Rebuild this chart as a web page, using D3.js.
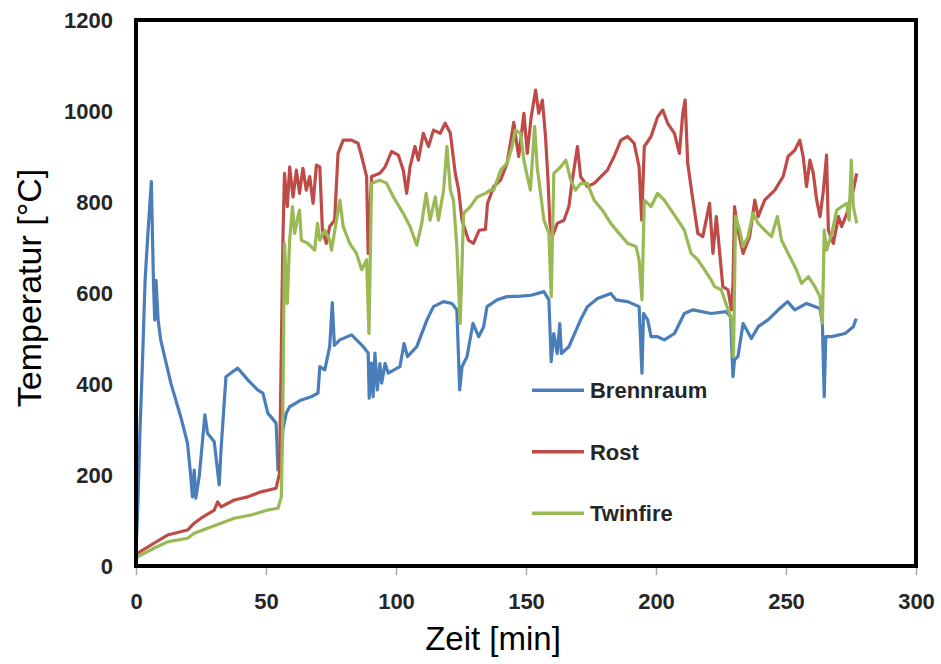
<!DOCTYPE html>
<html>
<head>
<meta charset="utf-8">
<script src="https://cdn.jsdelivr.net/npm/d3@7"></script>
<style>
  body { margin: 0; background: #fff; }
  .tick text { font-family: "Liberation Sans", Arial, sans-serif; font-weight: bold; font-size: 22px; fill: #262626; }
</style>
</head>
<body>
<svg id="chart" width="941" height="664"></svg>
<script>
// [Zeit (min), Temperatur (°C)]
const brennraum = [
  [0, 30], [0.8, 150], [1.5, 292], [2.5, 450], [3.5, 628], [4.5, 724], [5.9, 845], [6.7, 628], [7.2, 541], [7.7, 628],
  [8.5, 541], [9.5, 497], [13.4, 402], [17.2, 328], [19.8, 270], [21.1, 196], [21.7, 152], [22.4, 211], [23, 149], [24.3, 196],
  [26.5, 332], [27.5, 292], [30.1, 273], [32, 178], [32.7, 255], [34.6, 416], [39.1, 435], [43, 409], [46.8, 387], [48.8, 380],
  [50.7, 336], [53.9, 314], [54.6, 211], [55.9, 233], [56.5, 300], [57.8, 336], [59.1, 350], [63.6, 365], [67.4, 372], [70, 380],
  [70.7, 438], [72.6, 431], [74.5, 482], [75.5, 579], [76.3, 485], [78.4, 497], [82.9, 508], [87.4, 482], [89.3, 468], [89.7, 369],
  [90.6, 446], [91.2, 372], [91.9, 468], [92.8, 387], [93.8, 445], [94.5, 402], [95.8, 445], [97, 424], [101.5, 438], [103.1, 489],
  [104.4, 460], [108, 482], [111.9, 541], [114.4, 570], [118.3, 581], [121.5, 577], [123.4, 563], [124.5, 387], [125.4, 438], [127.3, 460],
  [129.6, 533], [131.8, 504], [133.7, 526], [135, 570], [138.9, 585], [142.7, 592], [147.9, 593], [152, 595], [156.9, 603], [158.8, 585],
  [159.7, 449], [160.7, 511], [162, 467], [163, 533], [163.6, 467], [166.5, 482], [171, 541], [173.6, 570], [177.5, 588], [182.6, 599],
  [184.6, 585], [189.1, 581], [193.5, 570], [194.6, 424], [195.2, 555], [196.8, 541], [198.1, 504], [200.6, 504], [203.2, 497], [207.1, 511],
  [210.9, 555], [214.2, 563], [221.2, 555], [227, 559], [228.7, 548], [229.6, 416], [230.2, 453], [231.5, 460], [233.5, 533], [236.7, 500],
  [239.3, 526], [243.1, 541], [247.6, 566], [250.6, 581], [253.4, 563], [257.9, 577], [263.1, 566], [264, 533], [264.7, 372], [265.3, 504],
  [267.6, 504], [272.7, 511], [275.9, 526], [277, 544]
];

const rost = [
  [0, 20], [0.5, 28], [6.9, 50], [12.1, 68], [19.8, 79], [22.4, 94], [25, 105], [30.1, 123], [31.4, 141], [32.7, 130],
  [37.8, 145], [43, 152], [48.1, 163], [53.9, 171], [55.2, 204], [56.5, 716], [57.1, 863], [58.2, 790], [59.1, 877], [60.4, 811],
  [61.7, 870], [62.9, 819], [64.2, 874], [65.5, 826], [66.8, 856], [68.1, 797], [69.4, 881], [70.7, 877], [71.7, 738], [73.2, 709],
  [74.5, 746], [76.4, 760], [77.7, 907], [79.7, 936], [82.9, 936], [85.4, 929], [86.8, 900], [88.7, 856], [89.3, 687], [90.6, 856],
  [93.8, 863], [95.8, 877], [98.3, 911], [100.9, 903], [102.8, 870], [104.1, 819], [105.4, 877], [107.3, 922], [108.6, 892], [110.5, 951],
  [112.5, 922], [114.4, 958], [117, 951], [118.9, 973], [120.9, 951], [122.8, 863], [124.1, 826], [125.4, 760], [127.9, 716], [129.8, 709],
  [132, 738], [134.4, 740], [135.2, 797], [137.6, 834], [140.2, 848], [142.7, 885], [144, 929], [145.3, 975], [146.6, 922], [147.2, 900],
  [149.2, 995], [150.5, 907], [152, 987], [153.7, 1046], [154.9, 995], [156.3, 1024], [157.5, 944], [158.4, 856], [159.2, 753], [160.1, 724],
  [162, 753], [164.6, 760], [166.5, 790], [167.8, 848], [169.8, 922], [171, 856], [173.6, 834], [176.2, 841], [178.8, 856], [181.3, 870],
  [183.9, 900], [186.5, 936], [189.1, 944], [191.6, 929], [193.5, 877], [194.5, 760], [195.5, 922], [198.1, 944], [200.6, 987], [202.6, 1002],
  [204.5, 973], [207.1, 951], [209, 907], [210.3, 995], [211.2, 1024], [212.2, 885], [214.2, 804], [216.1, 731], [218, 724], [220.6, 797],
  [221.9, 687], [223.2, 768], [224.4, 694], [225.7, 614], [227.7, 607], [229, 563], [229.6, 620], [230.2, 790], [231.5, 738], [233.5, 687],
  [236, 724], [238, 804], [239.3, 768], [241.8, 804], [245.7, 826], [248.9, 856], [250.8, 900], [253.4, 914], [255.3, 936], [256.6, 900],
  [257.9, 834], [259.2, 892], [260.5, 863], [261.8, 804], [263.1, 768], [264.4, 826], [265.6, 903], [266.3, 738], [268.2, 709], [270.2, 768],
  [271.4, 746], [273.4, 775], [274.6, 804], [275.9, 826], [277.2, 863]
];

const twinfire = [
  [0, 15], [0.5, 20], [6.9, 39], [12.1, 53], [19.8, 61], [22.4, 72], [27.5, 83], [32.7, 94], [37.8, 105], [44.3, 112],
  [50.7, 123], [54.6, 127], [55.9, 152], [56.5, 350], [57.1, 709], [58.2, 577], [59.1, 716], [60.2, 790], [61, 731], [62.3, 768],
  [62.9, 782], [63.6, 716], [66.1, 709], [68.7, 694], [69.8, 753], [70.7, 716], [72.6, 738], [74.5, 716], [75.2, 694], [77.1, 760],
  [78.4, 804], [79.7, 746], [82.2, 709], [84.8, 687], [86.8, 651], [88.7, 673], [89.6, 511], [90.6, 841], [93.8, 848], [96.4, 841],
  [99, 811], [102.8, 775], [105.4, 746], [108, 705], [109.9, 753], [111.6, 819], [113.1, 760], [115.1, 811], [116.3, 760], [118.3, 826],
  [119.6, 922], [120.9, 826], [122.1, 804], [123.4, 702], [124.7, 533], [126, 775], [128.6, 790], [131.2, 811], [134.4, 819], [136.3, 826],
  [137.6, 826], [140.2, 870], [142.7, 885], [144.7, 922], [145.9, 958], [147.9, 951], [149.2, 892], [150.5, 856], [151.7, 826], [153.3, 966],
  [154.3, 877], [155.6, 819], [156.9, 760], [158.8, 731], [159.7, 592], [160.7, 863], [163.3, 877], [165.3, 892], [167.2, 848], [169.1, 826],
  [171, 841], [173.6, 841], [176.2, 804], [179.4, 782], [182.6, 753], [185.8, 731], [189.1, 709], [192.3, 702], [193.5, 673], [194.6, 585],
  [195.5, 804], [198.1, 790], [200.6, 819], [203.2, 804], [205.8, 782], [208.4, 760], [210.9, 738], [213.5, 687], [216.1, 673], [218.7, 651],
  [221.2, 629], [222.5, 614], [225.1, 607], [227.7, 563], [229.2, 541], [229.8, 460], [230.6, 768], [232.2, 738], [233.5, 702], [235.4, 724],
  [237.3, 775], [239.3, 753], [241.8, 738], [244.4, 724], [246.7, 768], [248.3, 716], [250.8, 687], [254, 651], [256, 621], [258.6, 636],
  [261.1, 614], [263.1, 592], [264, 533], [264.7, 738], [265.6, 694], [267.6, 731], [269.5, 782], [271.4, 790], [273.4, 797], [274.3, 760],
  [275.1, 892], [275.9, 790], [277.2, 753]
];

const seriesNames = ['Brennraum', 'Rost', 'Twinfire'];
const seriesColors = ['#4a7ebb', '#be4b48', '#98b954'];
const xTicks = [0, 50, 100, 150, 200, 250, 300];
const yTicks = [0, 200, 400, 600, 800, 1000, 1200];

const svg = d3.select('#chart');

const margin = { top: 20, right: 25, bottom: 98, left: 136 };
const width = 941 - margin.left - margin.right;
const height = 664 - margin.top - margin.bottom;

const x = d3.scaleLinear().domain([0, 300]).range([0, width]);
const y = d3.scaleLinear().domain([0, 1200]).range([height, 0]);

const g = svg.append('g').attr('transform', `translate(${margin.left},${margin.top})`);

// x axis with small grey ticks
const xAxis = g.append('g')
  .attr('transform', `translate(0,${height})`)
  .call(d3.axisBottom(x).tickValues(xTicks).tickFormat(d3.format('d')).tickSize(9).tickPadding(18));
xAxis.select('.domain').remove();
xAxis.selectAll('.tick line').attr('stroke', '#aaa').attr('stroke-width', 1.5);

const yAxis = g.append('g')
  .call(d3.axisLeft(y).tickValues(yTicks).tickFormat(d3.format('d')).tickSize(0).tickPadding(23));
yAxis.select('.domain').remove();

// lines
const line = d3.line().x(d => x(d[0])).y(d => y(d[1]));
[brennraum, rost, twinfire].forEach((data, i) => {
  g.append('path')
    .datum(data)
    .attr('fill', 'none')
    .attr('stroke', seriesColors[i])
    .attr('stroke-width', 3.2)
    .attr('stroke-linejoin', 'round')
    .attr('d', line);
});

// frame
g.append('rect')
  .attr('x', 0).attr('y', 0)
  .attr('width', width).attr('height', height)
  .attr('fill', 'none')
  .attr('stroke', '#000')
  .attr('stroke-width', 4);

// legend
const legend = g.append('g').attr('transform', `translate(${x(152.3)},${y(386)})`);
seriesNames.forEach((name, i) => {
  const row = legend.append('g').attr('transform', `translate(0,${i * 61.5})`);
  row.append('line')
    .attr('x1', 0).attr('x2', 52)
    .attr('stroke', seriesColors[i])
    .attr('stroke-width', 3.5);
  row.append('text')
    .attr('x', 58).attr('dy', '0.35em')
    .style('font-family', '"Liberation Sans", Arial, sans-serif')
    .style('font-weight', 'bold')
    .style('font-size', '22px')
    .attr('fill', '#262626')
    .text(name);
});

// axis titles
svg.append('text')
  .attr('transform', 'translate(41,288) rotate(-90)')
  .attr('text-anchor', 'middle')
  .style('font-family', '"Liberation Sans", Arial, sans-serif')
  .style('font-size', '34px')
  .text('Temperatur [°C]');

svg.append('text')
  .attr('x', 493).attr('y', 650)
  .attr('text-anchor', 'middle')
  .style('font-family', '"Liberation Sans", Arial, sans-serif')
  .style('font-size', '33px')
  .text('Zeit [min]');
</script>
</body>
</html>
